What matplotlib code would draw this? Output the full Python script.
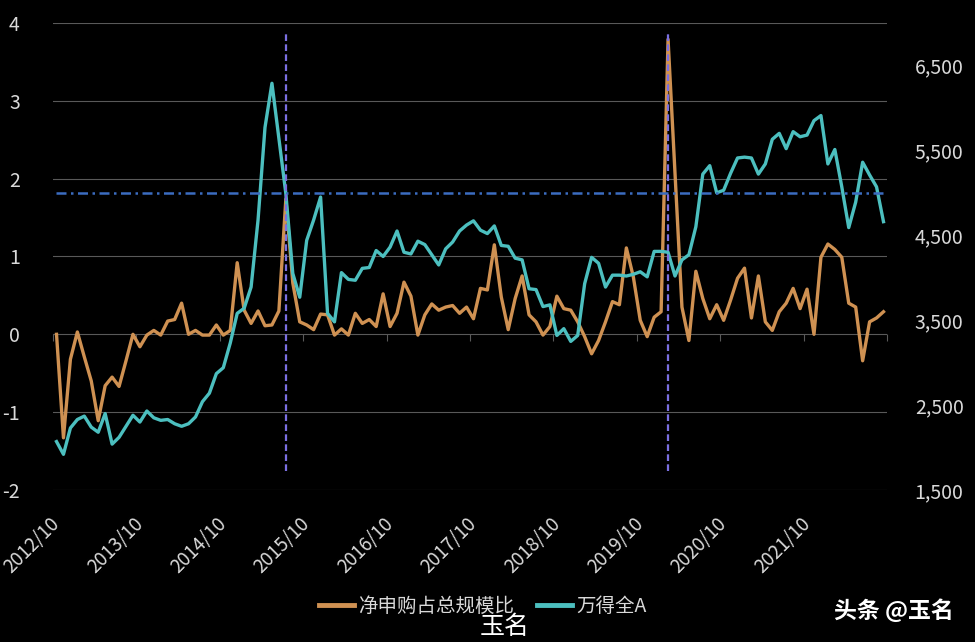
import matplotlib.pyplot as plt
import matplotlib.ticker as mticker
import numpy as np
import pandas as pd

plt.rcParams['font.family'] = ['Noto Sans CJK SC', 'DejaVu Sans']
plt.rcParams['font.weight'] = 'light'
plt.rcParams['axes.unicode_minus'] = False

# monthly categories 2012/10 .. 2022/09
months = pd.period_range('2012-10', periods=120, freq='M').strftime('%Y/%m')

# 净申购占总规模比 (left axis)
net_sub = [
    0.00, -1.33, -0.32, 0.03, -0.29, -0.60, -1.11, -0.66, -0.55, -0.67,
    -0.34, 0.00, -0.16, -0.01, 0.05, -0.01, 0.17, 0.19, 0.40, 0.00,
    0.05, -0.01, -0.01, 0.12, -0.01, 0.05, 0.92, 0.31, 0.14, 0.30,
    0.11, 0.12, 0.30, 1.74, 0.66, 0.16, 0.12, 0.06, 0.26, 0.25,
    -0.01, 0.07, -0.01, 0.27, 0.14, 0.19, 0.10, 0.52, 0.10, 0.27,
    0.67, 0.49, -0.01, 0.25, 0.39, 0.31, 0.35, 0.37, 0.27, 0.35,
    0.20, 0.59, 0.57, 1.15, 0.48, 0.06, 0.46, 0.75, 0.25, 0.16,
    -0.01, 0.10, 0.49, 0.33, 0.31, 0.16, -0.03, -0.25, -0.08, 0.16,
    0.42, 0.38, 1.11, 0.74, 0.18, -0.03, 0.22, 0.29, 3.79, 2.07,
    0.35, -0.08, 0.81, 0.46, 0.20, 0.38, 0.18, 0.44, 0.72, 0.85,
    0.21, 0.75, 0.16, 0.05, 0.29, 0.40, 0.59, 0.33, 0.58, 0.00,
    0.99, 1.16, 1.09, 0.99, 0.40, 0.35, -0.34, 0.16, 0.21, 0.29,
]

# 万得全A (right axis)
wind_a = [
    2070, 1920, 2230, 2330, 2370, 2240, 2180, 2400, 2040, 2120,
    2250, 2380, 2300, 2430, 2350, 2320, 2330, 2280, 2250, 2280,
    2360, 2540, 2640, 2870, 2940, 3230, 3580, 3640, 3890, 4680,
    5770, 6290, 5640, 4990, 4050, 3770, 4440, 4680, 4950, 3580,
    3480, 4060, 3980, 3970, 4110, 4120, 4320, 4250, 4360, 4550,
    4300, 4280, 4430, 4390, 4270, 4150, 4340, 4420, 4550, 4620,
    4670, 4560, 4520, 4610, 4380, 4370, 4230, 4210, 3870, 3860,
    3660, 3680, 3320, 3400, 3250, 3320, 3930, 4240, 4170, 3890,
    4030, 4030, 4020, 4040, 4070, 4010, 4310, 4310, 4300, 4020,
    4210, 4270, 4600, 5220, 5320, 5000, 5030, 5230, 5410, 5420,
    5410, 5220, 5340, 5630, 5700, 5520, 5720, 5660, 5680, 5850,
    5910, 5340, 5510, 5070, 4590, 4890, 5360, 5210, 5070, 4660,
]

tick_labels = ['2012/10', '2013/10', '2014/10', '2015/10', '2016/10',
               '2017/10', '2018/10', '2019/10', '2020/10', '2021/10']
events = ['2015/07', '2020/02']
threshold = 5000

ORANGE = '#cf9152'
TEAL = '#4cbfbf'
GRID = '#595959'
TXT = '#d9d9d9'

fig = plt.figure(figsize=(9.75, 6.42), dpi=100, facecolor='black')
ax = fig.add_axes([0.0544, 0.2368, 0.8553, 0.7274])
ax.set_facecolor('black')
ax2 = ax.twinx()

x = np.arange(len(months))
ax.plot(x, net_sub, color=ORANGE, lw=2.4, label='净申购占总规模比', zorder=3)
ax2.plot(x, wind_a, color=TEAL, lw=2.4, label='万得全A', zorder=3)

for ev in events:
    ax2.axvline(list(months).index(ev), ymin=0.04, ymax=0.979,
                color='#7a6fe0', lw=1.6, ls=(0, (3, 1.5)), zorder=5)
ax2.axhline(threshold, xmin=0.004, xmax=1, color='#3b6cc0', lw=1.8,
            ls=(0, (4, 1.8, 1, 1.8)), zorder=4)

ax.set_xlim(-0.5, len(months) - 0.5)
ax.set_ylim(-2, 4)
ax.set_yticks(range(-2, 5))
ax.yaxis.grid(True, color=GRID, lw=0.8)
ax.set_axisbelow(True)
ax2.set_ylim(1500, 7000)
ax2.set_yticks(range(1500, 7000, 1000))
ax2.yaxis.set_major_formatter(mticker.FuncFormatter(lambda v, p: f'{v:,.0f}'))

for a in (ax, ax2):
    for s in a.spines.values():
        s.set_visible(False)

ax.set_xticks([list(months).index(t) for t in tick_labels])
ax.set_xticklabels(tick_labels, rotation=45, ha='right', va='center',
                   rotation_mode='anchor')
ax.tick_params(axis='x', length=0, pad=22, labelsize=13.5, labelcolor=TXT)
ax.tick_params(axis='y', length=0, pad=24, labelsize=14, labelcolor=TXT)
ax2.tick_params(axis='y', length=0, pad=20, labelsize=14, labelcolor=TXT)

# category tick marks on the zero line
sec = ax.secondary_xaxis(2 / 6)
sec.set_xticks(np.arange(-0.5, len(months), 12))
sec.tick_params(axis='x', length=5, width=0.8, color=GRID, labelbottom=False,
                labeltop=False)
for s in sec.spines.values():
    s.set_visible(False)

h1, l1 = ax.get_legend_handles_labels()
h2, l2 = ax2.get_legend_handles_labels()
leg = fig.legend(h1 + h2, l1 + l2, loc='center', bbox_to_anchor=(0.495, 0.056),
                 ncol=2, frameon=False, fontsize=14, labelcolor=TXT,
                 handlelength=1.8, handletextpad=0.2, columnspacing=1.2)
for line in leg.get_lines():
    line.set_linewidth(3.5)

# watermarks
fig.text(0.492, 0.024, '玉名', color='white', fontsize=18, fontweight='normal',
         ha='left', va='center')
fig.text(0.978, 0.048, '头条 @玉名', color='white', fontsize=16.5,
         fontweight='bold', ha='right', va='center')

fig.savefig('out.png', dpi=100, facecolor='black')
